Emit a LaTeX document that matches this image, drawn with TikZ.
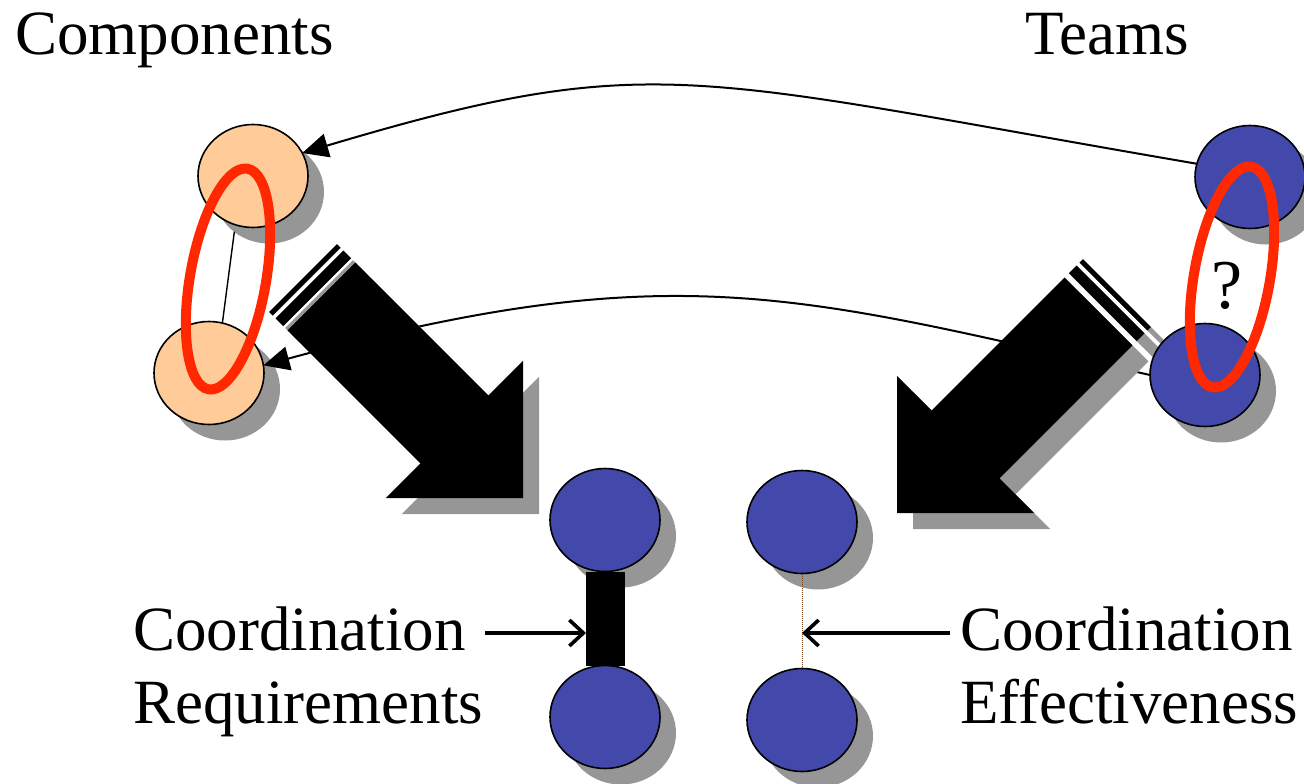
\documentclass[tikz,border=0pt]{standalone}
\usepackage{fontspec}
\setmainfont{Liberation Serif}
\usetikzlibrary{shapes.geometric,arrows.meta}
\definecolor{peach}{RGB}{255,204,153}
\definecolor{navy}{RGB}{67,73,170}
\definecolor{shgray}{RGB}{150,150,150}
\definecolor{ringred}{RGB}{255,40,0}
\definecolor{dotbrown}{RGB}{120,70,30}
\pgfdeclarelayer{shad}
\pgfdeclarelayer{links}
\pgfsetlayers{shad,links,main}
\tikzset{pics/barrow/.style={code={
  \fill[#1] (0,0) -- (-97,97) -- (-97,48) -- (-285,48) -- (-285,-48) -- (-97,-48) -- (-97,-97) -- cycle;
  \fill[#1] (-291,-48) rectangle (-302,48);
  \fill[#1] (-306,-48) rectangle (-311,48);
}}}
\begin{document}
\begin{tikzpicture}[x=1pt,y=-1pt,
  ball/.style={ellipse, draw=black, line width=1.6pt, minimum width=110pt, minimum height=103pt, inner sep=0pt, outer sep=0pt},
  comp/.style={ball, fill=peach},
  team/.style={ball, fill=navy},
  ring/.style={ellipse, draw=ringred, line width=10pt, minimum width=224pt, minimum height=76pt, inner sep=0pt, rotate=80},
  lbl/.style={anchor=base west, inner sep=0pt, font=\rmfamily\fontsize{63pt}{72pt}\selectfont},
  link/.style={line width=2pt, -{Triangle[length=26pt, width=24pt]}},
  pointer/.style={line width=3.6pt, -{Straight Barb[length=14pt, width=26pt]}},
]
\useasboundingbox (0,0) rectangle (1304,784);

% circles
\node[comp] (tl) at (253,176) {};
\node[comp] (bl) at (209,373) {};
\node[team] (tr) at (1250,177) {};
\node[team] (br) at (1205,375) {};
\node[team] (l1) at (605,520) {};
\node[team] (l2) at (605,717) {};
\node[team] (r1) at (802,522) {};
\node[team] (r2) at (802,720) {};

% circle shadows
\begin{pgfonlayer}{shad}
  \foreach \n in {tl,bl,tr,br,l1,l2,r1,r2}
    \fill[shgray] ([shift={(16,16)}]\n.center) ellipse [x radius=55, y radius=51.5];
\end{pgfonlayer}

% connectors and block arrows
\begin{pgfonlayer}{links}
  \draw[link] (tr.166) .. controls (690,77) and (654,48) .. (tl.25);
  \draw[link] (br.180) .. controls (797,295) and (674,254) .. (bl.8);
  \pic[rotate=-45] at (539,514) {barrow=shgray};
  \pic[rotate=-45] at (523,498) {barrow=black};
  \pic[rotate=-135] at (913,529) {barrow=shgray};
  \pic[rotate=-135] at (897,513) {barrow=black};
  \draw[line width=39pt] (l1.south) -- (l2.north);
  \draw[dotbrown, line width=1pt, densely dotted] (r1.south) -- (r2.north);
\end{pgfonlayer}

\draw[line width=1.4pt, shorten <=7pt] (tl.250) -- (bl.75);

% red groupings
\node[ring] (rc) at (228,279) {};
\node[ring] (rt) at (1232,277) {};
\node[anchor=base, inner sep=0pt, font=\rmfamily\fontsize{70pt}{80pt}\selectfont] (q) at (1227,308) {?};

% labels
\node[lbl] (tc) at (15,55) {Components};
\node[lbl] (tt) at (1025,55) {Teams};
\node[lbl] (c1) at (133,650) {Coordination};
\node[lbl] (c2) at (133,723) {Requirements};
\node[lbl] (c3) at (960,650) {Coordination};
\node[lbl] (c4) at (960,723) {Effectiveness};

% pointers
\coordinate (p1) at (485,633);
\coordinate (p1e) at (586,633);
\draw[pointer] (p1) -- (p1e);
\coordinate (p2) at (950,633);
\draw[pointer] (p2) -- (p2 -| r1.south);
\end{tikzpicture}
\end{document}
